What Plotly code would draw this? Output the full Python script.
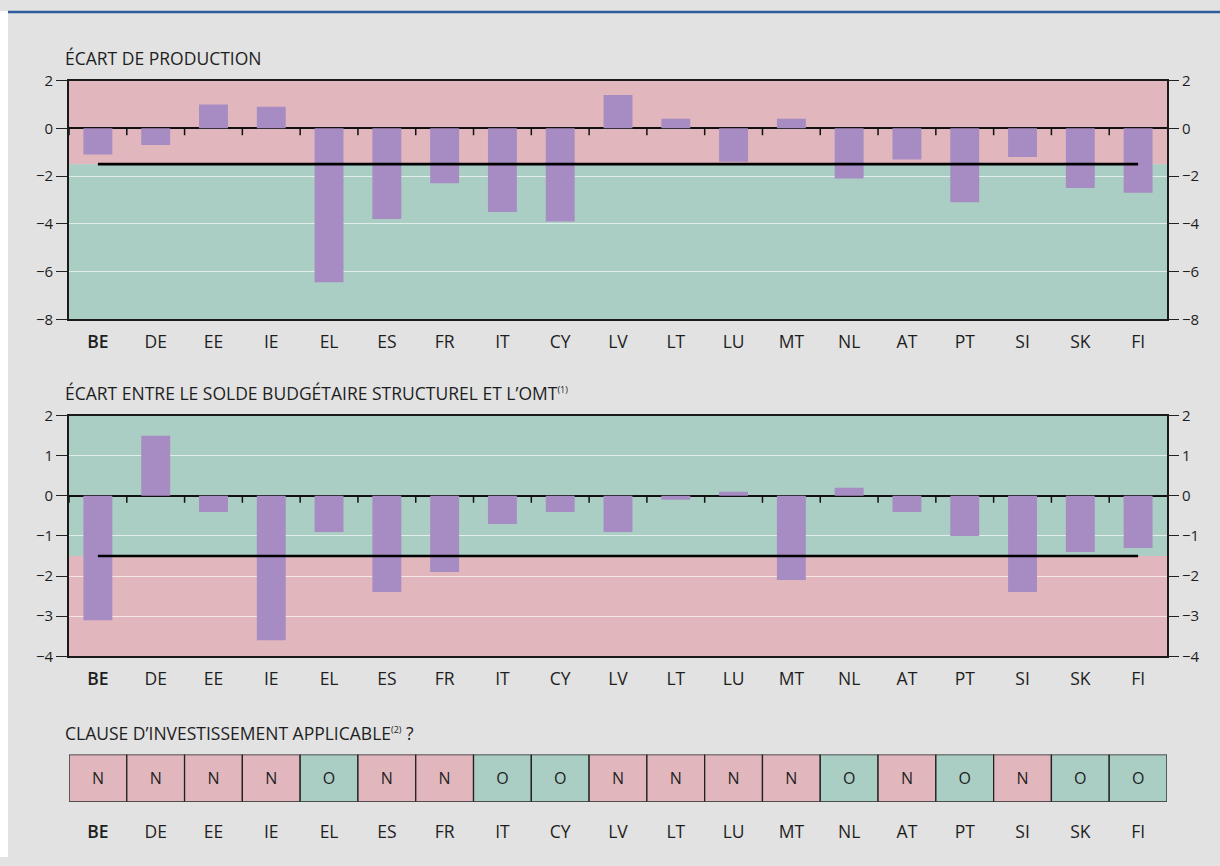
import plotly.graph_objects as go

# ---------------- data ----------------
countries = ["BE", "DE", "EE", "IE", "EL", "ES", "FR", "IT", "CY", "LV",
             "LT", "LU", "MT", "NL", "AT", "PT", "SI", "SK", "FI"]
output_gap = [-1.1, -0.7, 1.0, 0.9, -6.45, -3.8, -2.3, -3.5, -3.9, 1.4,
              0.4, -1.4, 0.4, -2.1, -1.3, -3.1, -1.2, -2.5, -2.7]
omt_gap = [-3.1, 1.5, -0.4, -3.6, -0.9, -2.4, -1.9, -0.7, -0.4, -0.9,
           -0.1, 0.1, -2.1, 0.2, -0.4, -1.0, -2.4, -1.4, -1.3]
clause = ["N", "N", "N", "N", "O", "N", "N", "O", "O", "N",
          "N", "N", "N", "O", "N", "O", "N", "O", "O"]
threshold = -1.5
y1_ticks = [2, 0, -2, -4, -6, -8]
y2_ticks = [2, 1, 0, -1, -2, -3, -4]

SUP = "<sup><span style='font-size:9px'>%s</span></sup>"
title1 = "ÉCART DE PRODUCTION"
title2 = "ÉCART ENTRE LE SOLDE BUDGÉTAIRE STRUCTUREL ET L’OMT" + SUP % "(1)"
title3 = "CLAUSE D’INVESTISSEMENT APPLICABLE" + SUP % "(2)" + " ?"

# ---------------- style ----------------
W, H = 1220, 866
FONT = "Open Sans"
TXT = "#1e1e1e"
PANEL = "#e2e2e2"
PINK = "#e1b7bd"
GREEN = "#aacdc4"
PURPLE = "#a78bc3"
BLUE = "#2e5d9e"
GRID = "rgba(255,255,255,0.65)"
LAB = 17.5

# measured vertical mapping of the capture: screen_y = 11.6 + 0.974 * figure_y
def fig_y(screen_y):
    return (screen_y - 11.6) / 0.974

def px_x(v):
    return v / W

def px_y(screen_y):
    return 1 - fig_y(screen_y) / H

xdom = [px_x(69), px_x(1167)]
dom1 = [px_y(319), px_y(81)]
dom2 = [px_y(655), px_y(415)]
dom3 = [px_y(800), px_y(753)]

ticktext = ["<span style='font-weight:600'>" + c + "</span>" if c == "BE" else c for c in countries]

fig = go.Figure()

# chart 1
fig.add_trace(go.Bar(x=countries, y=output_gap, width=0.5, marker=dict(color=PURPLE, line=dict(width=0)),
                     xaxis="x", yaxis="y", hoverinfo="skip"))
fig.add_trace(go.Scatter(x=[countries[0], countries[-1]], y=[threshold, threshold], mode="lines",
                         line=dict(color="black", width=2.6), xaxis="x", yaxis="y", hoverinfo="skip"))
fig.add_trace(go.Scatter(x=countries, y=output_gap, mode="markers", marker=dict(opacity=0),
                         xaxis="x", yaxis="y4", hoverinfo="skip"))
# chart 2
fig.add_trace(go.Bar(x=countries, y=omt_gap, width=0.5, marker=dict(color=PURPLE, line=dict(width=0)),
                     xaxis="x2", yaxis="y2", hoverinfo="skip"))
fig.add_trace(go.Scatter(x=[countries[0], countries[-1]], y=[threshold, threshold], mode="lines",
                         line=dict(color="black", width=2.6), xaxis="x2", yaxis="y2", hoverinfo="skip"))
fig.add_trace(go.Scatter(x=countries, y=omt_gap, mode="markers", marker=dict(opacity=0),
                         xaxis="x2", yaxis="y5", hoverinfo="skip"))
# table
cell_colors = [GREEN if c == "O" else PINK for c in clause]
fig.add_trace(go.Bar(x=countries, y=[1] * len(countries), width=1, text=clause,
                     textposition="inside", insidetextanchor="middle", textangle=0,
                     textfont=dict(family=FONT, size=16, color=TXT),
                     marker=dict(color=cell_colors, line=dict(color="#222222", width=1.3)),
                     xaxis="x3", yaxis="y3", hoverinfo="skip"))

xcommon = dict(type="category", domain=xdom, range=[-0.5, len(countries) - 0.5],
               tickmode="array", tickvals=countries, ticktext=ticktext,
               ticks="outside", tickcolor="rgba(0,0,0,0)",
               tickfont=dict(family=FONT, size=LAB, color=TXT),
               showgrid=False, zeroline=False, fixedrange=True)

def yleft(domain, rng, tickvals, anchor):
    return dict(domain=domain, range=rng, anchor=anchor, tickmode="array", tickvals=tickvals,
                ticks="outside", ticklen=11, tickwidth=1.3, tickcolor="#222",
                tickfont=dict(family=FONT, size=15, color=TXT),
                showline=True, linecolor="#1a1a1a", linewidth=1.6, mirror=True,
                showgrid=True, gridcolor=GRID, gridwidth=1,
                zeroline=True, zerolinecolor="#111", zerolinewidth=1.5, fixedrange=True)

def yright(domain, rng, tickvals, anchor, overlay):
    return dict(domain=domain, range=rng, anchor=anchor, overlaying=overlay, side="right",
                tickmode="array", tickvals=tickvals,
                ticks="outside", ticklen=11, tickwidth=1.3, tickcolor="#222",
                tickfont=dict(family=FONT, size=15, color=TXT),
                showline=False, showgrid=False, zeroline=False, fixedrange=True)

r1 = [min(y1_ticks), max(y1_ticks)]
r2 = [min(y2_ticks), max(y2_ticks)]

fig.update_layout(
    width=W, height=H, autosize=False,
    margin=dict(l=0, r=0, t=0, b=0),
    paper_bgcolor=PANEL, plot_bgcolor="rgba(0,0,0,0)",
    showlegend=False, barmode="overlay",
    font=dict(family=FONT, color=TXT),
    xaxis=dict(xcommon, anchor="y", ticklen=6,
               showline=True, linecolor="#1a1a1a", linewidth=1.6, mirror=True),
    yaxis=yleft(dom1, r1, y1_ticks, "x"),
    yaxis4=yright(dom1, r1, y1_ticks, "x", "y"),
    xaxis2=dict(xcommon, anchor="y2", ticklen=6,
                showline=True, linecolor="#1a1a1a", linewidth=1.6, mirror=True),
    yaxis2=yleft(dom2, r2, y2_ticks, "x2"),
    yaxis5=yright(dom2, r2, y2_ticks, "x2", "y2"),
    xaxis3=dict(xcommon, anchor="y3", ticklen=14, showline=False),
    yaxis3=dict(domain=dom3, range=[0, 1], anchor="x3", visible=False, fixedrange=True),
)

shapes = []
# white left margin and top rule
shapes.append(dict(type="rect", xref="paper", yref="paper", x0=0, x1=px_x(8), y0=0, y1=1,
                   fillcolor="white", line=dict(width=0), layer="below"))
shapes.append(dict(type="line", xref="paper", yref="paper", x0=px_x(8), x1=1,
                   y0=1 - 1.0 / H, y1=1 - 1.0 / H, line=dict(color=BLUE, width=2.4), layer="below"))
# chart 1 zones
shapes.append(dict(type="rect", xref="x domain", yref="y", x0=0, x1=1, y0=threshold, y1=r1[1],
                   fillcolor=PINK, line=dict(width=0), layer="below"))
shapes.append(dict(type="rect", xref="x domain", yref="y", x0=0, x1=1, y0=r1[0], y1=threshold,
                   fillcolor=GREEN, line=dict(width=0), layer="below"))
# chart 2 zones
shapes.append(dict(type="rect", xref="x2 domain", yref="y2", x0=0, x1=1, y0=threshold, y1=r2[1],
                   fillcolor=GREEN, line=dict(width=0), layer="below"))
shapes.append(dict(type="rect", xref="x2 domain", yref="y2", x0=0, x1=1, y0=r2[0], y1=threshold,
                   fillcolor=PINK, line=dict(width=0), layer="below"))
# separator ticks on the zero line
for xr, yr in (("x", "y"), ("x2", "y2")):
    for i in range(len(countries)):
        shapes.append(dict(type="line", xref=xr, yref=yr, x0=i - 0.5, x1=i - 0.5,
                           ysizemode="pixel", yanchor=0, y0=0, y1=-7,
                           line=dict(color="#111", width=1.5)))
fig.update_layout(shapes=shapes)

ann = []
for text, ypix in ((title1, 58), (title2, 392), (title3, 731)):
    ann.append(dict(text=text, xref="paper", yref="paper", x=px_x(63), y=px_y(ypix),
                    xanchor="left", yanchor="middle", showarrow=False,
                    font=dict(family=FONT, size=LAB, color=TXT)))
fig.update_layout(annotations=ann)

post = ("document.documentElement.style.margin='0';document.body.style.margin='0';"
        "document.documentElement.style.overflow='hidden';document.body.style.overflow='hidden';"
        "document.body.style.height='866px';"
        "document.documentElement.style.background="
        "'linear-gradient(to right, #ffffff 8px, rgba(255,255,255,0) 8px),"
        " linear-gradient(to bottom, #ffffff 50%, " + PANEL + " 50%)';"
        "document.body.style.background='transparent';"
        "var gd=document.getElementById('{plot_id}');gd.style.position='absolute';"
        "gd.style.left='0px';gd.style.top='0px';")
fig.write_html("out.html", post_script=post, config={"displayModeBar": False})
